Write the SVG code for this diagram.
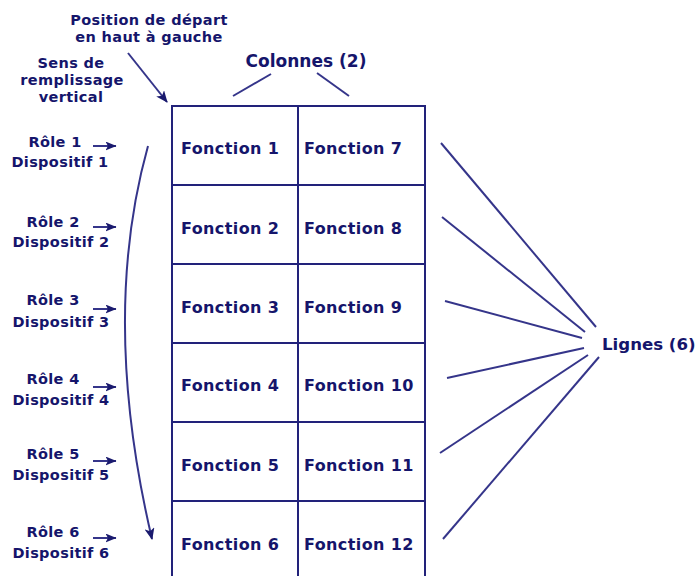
<svg xmlns="http://www.w3.org/2000/svg" width="698" height="576" viewBox="0 0 698 576">
<defs>
<style>
text{font-family:"DejaVu Sans","Verdana",sans-serif;font-weight:bold;fill:#15156b}
.lbl{font-size:14.5px;letter-spacing:0.35px}
.fn{font-size:16px;letter-spacing:0.4px}
.ln{stroke:#35358a;stroke-width:2;fill:none}
.grid{stroke:#22227a;stroke-width:2;fill:none}
</style>
<marker id="ah" viewBox="0 0 12 10" refX="11" refY="5" markerWidth="12" markerHeight="10" markerUnits="userSpaceOnUse" orient="auto">
<path d="M0,0 L12,5 L0,10 L3,5 z" fill="#1a1a6e"/>
</marker>
<marker id="ahs" viewBox="0 0 11 9" refX="10.5" refY="4.5" markerWidth="11" markerHeight="9" markerUnits="userSpaceOnUse" orient="auto">
<path d="M0,0 L11,4.5 L0,9 L2.5,4.5 z" fill="#1a1a6e"/>
</marker>
</defs>
<rect width="698" height="576" fill="#ffffff"/>

<g id="grid">
<rect class="grid" x="172" y="106" width="253" height="474"/>
<line class="grid" x1="298" y1="106" x2="298" y2="580"/>
<line class="grid" x1="172" y1="185" x2="425" y2="185"/>
<line class="grid" x1="172" y1="264" x2="425" y2="264"/>
<line class="grid" x1="172" y1="343" x2="425" y2="343"/>
<line class="grid" x1="172" y1="422" x2="425" y2="422"/>
<line class="grid" x1="172" y1="501" x2="425" y2="501"/>
</g>
<g id="cell1"><text class="fn" x="181" y="154">Fonction 1</text></g>
<g id="cell2"><text class="fn" x="181" y="234">Fonction 2</text></g>
<g id="cell3"><text class="fn" x="181" y="313">Fonction 3</text></g>
<g id="cell4"><text class="fn" x="181" y="391">Fonction 4</text></g>
<g id="cell5"><text class="fn" x="181" y="471">Fonction 5</text></g>
<g id="cell6"><text class="fn" x="181" y="550">Fonction 6</text></g>
<g id="cell7"><text class="fn" x="304" y="154">Fonction 7</text></g>
<g id="cell8"><text class="fn" x="304" y="234">Fonction 8</text></g>
<g id="cell9"><text class="fn" x="304" y="313">Fonction 9</text></g>
<g id="cell10"><text class="fn" x="304" y="391">Fonction 10</text></g>
<g id="cell11"><text class="fn" x="304" y="471">Fonction 11</text></g>
<g id="cell12"><text class="fn" x="304" y="550">Fonction 12</text></g>

<g id="start-label">
<text class="lbl" x="149" y="25" text-anchor="middle">Position de départ</text>
<text class="lbl" x="149" y="42" text-anchor="middle">en haut à gauche</text>
</g>
<g id="sens-label">
<text class="lbl" x="71" y="68" text-anchor="middle">Sens de</text>
<text class="lbl" x="72" y="85" text-anchor="middle">remplissage</text>
<text class="lbl" x="71" y="102" text-anchor="middle">vertical</text>
</g>
<g id="colonnes-label"><text x="306" y="67" text-anchor="middle" style="font-size:17px">Colonnes (2)</text></g>
<g id="lignes-label"><text x="602" y="350" style="font-size:16.6px">Lignes (6)</text></g>

<g id="row1"><text class="lbl" x="55" y="147" text-anchor="middle">Rôle 1</text><text class="lbl" x="60" y="167" text-anchor="middle">Dispositif 1</text></g>
<g id="row2"><text class="lbl" x="53" y="227" text-anchor="middle">Rôle 2</text><text class="lbl" x="61" y="247" text-anchor="middle">Dispositif 2</text></g>
<g id="row3"><text class="lbl" x="53" y="305" text-anchor="middle">Rôle 3</text><text class="lbl" x="61" y="327" text-anchor="middle">Dispositif 3</text></g>
<g id="row4"><text class="lbl" x="53" y="384" text-anchor="middle">Rôle 4</text><text class="lbl" x="61" y="405" text-anchor="middle">Dispositif 4</text></g>
<g id="row5"><text class="lbl" x="53" y="459" text-anchor="middle">Rôle 5</text><text class="lbl" x="61" y="480" text-anchor="middle">Dispositif 5</text></g>
<g id="row6"><text class="lbl" x="53" y="537" text-anchor="middle">Rôle 6</text><text class="lbl" x="61" y="558" text-anchor="middle">Dispositif 6</text></g>

<g id="connectors">
<line class="ln" x1="128" y1="53" x2="167" y2="102" marker-end="url(#ah)"/>
<path class="ln" d="M148,146 Q100,318 152,539" marker-end="url(#ah)"/>
<line class="ln" x1="93" y1="146" x2="116" y2="146" marker-end="url(#ahs)"/>
<line class="ln" x1="93" y1="227" x2="116" y2="227" marker-end="url(#ahs)"/>
<line class="ln" x1="93" y1="309" x2="116" y2="309" marker-end="url(#ahs)"/>
<line class="ln" x1="93" y1="387" x2="116" y2="387" marker-end="url(#ahs)"/>
<line class="ln" x1="93" y1="461" x2="116" y2="461" marker-end="url(#ahs)"/>
<line class="ln" x1="93" y1="538" x2="116" y2="538" marker-end="url(#ahs)"/>
<line class="ln" x1="233" y1="96" x2="271" y2="74"/>
<line class="ln" x1="317" y1="73" x2="349" y2="96"/>
<line class="ln" x1="441" y1="143" x2="596" y2="327"/>
<line class="ln" x1="442" y1="217" x2="585" y2="332"/>
<line class="ln" x1="445" y1="301" x2="582" y2="338"/>
<line class="ln" x1="447" y1="378" x2="584" y2="348"/>
<line class="ln" x1="440" y1="453" x2="588" y2="355"/>
<line class="ln" x1="443" y1="539" x2="599" y2="357"/>
</g>
</svg>
